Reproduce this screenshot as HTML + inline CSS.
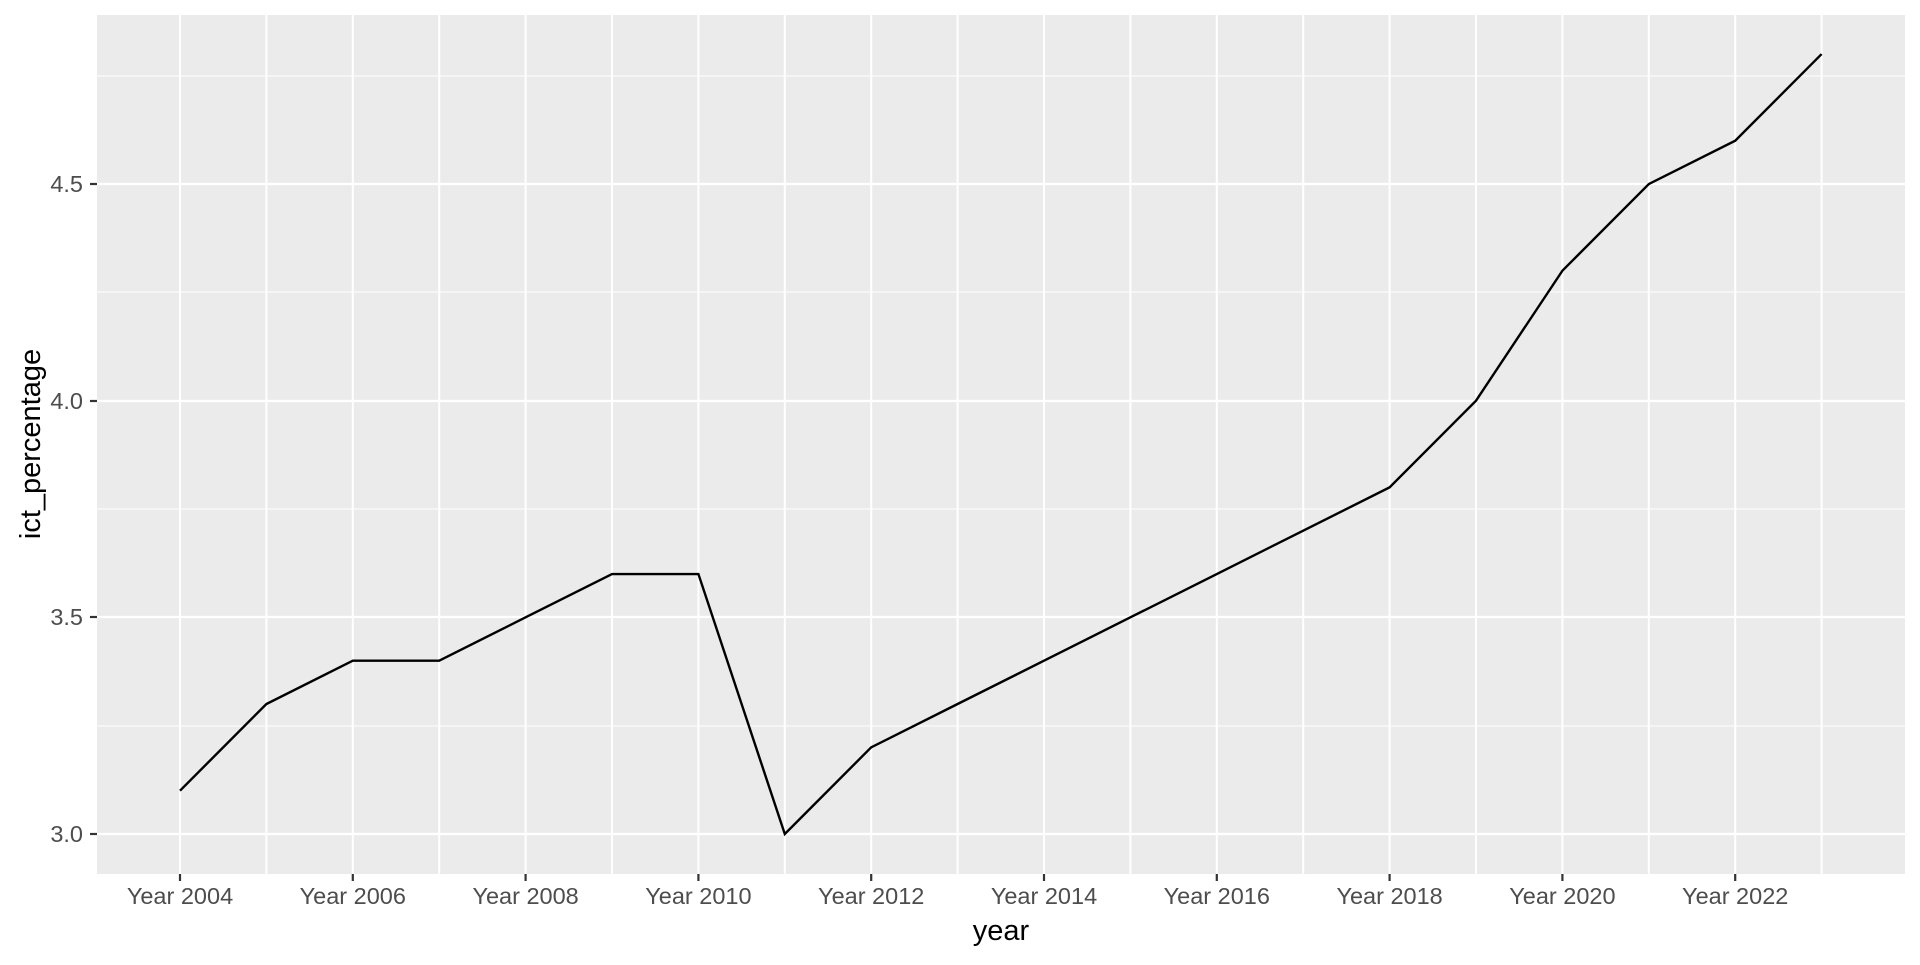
<!DOCTYPE html><html><head><style>body{margin:0;background:#fff}</style></head><body>
<svg width="1920" height="960" xmlns="http://www.w3.org/2000/svg" font-family="Liberation Sans, sans-serif">
<rect x="97" y="15" width="1808" height="859" fill="#ebebeb"/>
<g stroke="#fff" stroke-width="1.1">
<line x1="97" x2="1905" y1="726" y2="726"/><line x1="97" x2="1905" y1="509" y2="509"/><line x1="97" x2="1905" y1="292" y2="292"/><line x1="97" x2="1905" y1="76" y2="76"/>
</g>
<g stroke="#fff" stroke-width="2.2">
<line x1="97" x2="1905" y1="834" y2="834"/><line x1="97" x2="1905" y1="617" y2="617"/><line x1="97" x2="1905" y1="401" y2="401"/><line x1="97" x2="1905" y1="184" y2="184"/>
</g>
<g id="v" stroke="#fff"></g>
<script>
var g=document.getElementById('v'),ns='http://www.w3.org/2000/svg',s=document.querySelector('svg');
for(var i=0;i<20;i++){var x=180+i*86.4;var l=document.createElementNS(ns,'line');l.setAttribute('x1',x);l.setAttribute('x2',x);l.setAttribute('y1',15);l.setAttribute('y2',874);l.setAttribute('stroke-width',2);g.appendChild(l);
if(i%2==0){var t=document.createElementNS(ns,'line');t.setAttribute('x1',x);t.setAttribute('x2',x);t.setAttribute('y1',874);t.setAttribute('y2',881);t.setAttribute('stroke','#333');t.setAttribute('stroke-width',2.2);s.appendChild(t);
var tx=document.createElementNS(ns,'text');tx.setAttribute('x',x);tx.setAttribute('y',904);tx.setAttribute('text-anchor','middle');tx.setAttribute('font-size','23.5');tx.setAttribute('fill','#4d4d4d');tx.textContent='Year '+(2004+i);s.appendChild(tx);}}
var d=[3.1,3.3,3.4,3.4,3.5,3.6,3.6,3.0,3.2,3.3,3.4,3.5,3.6,3.7,3.8,4.0,4.3,4.5,4.6,4.8],p=[];
for(var i=0;i<20;i++)p.push((180+i*86.4)+','+(834-(d[i]-3)*433.3));
var pl=document.createElementNS(ns,'polyline');pl.setAttribute('points',p.join(' '));pl.setAttribute('fill','none');pl.setAttribute('stroke','#000');pl.setAttribute('stroke-width','2.4');s.appendChild(pl);
</script>
<g stroke="#333" stroke-width="2.2"><line x1="90" x2="97" y1="834" y2="834"/><line x1="90" x2="97" y1="617" y2="617"/><line x1="90" x2="97" y1="401" y2="401"/><line x1="90" x2="97" y1="184" y2="184"/></g>
<g font-size="23.5" fill="#4d4d4d" text-anchor="end"><text x="83" y="842">3.0</text><text x="83" y="625">3.5</text><text x="83" y="409">4.0</text><text x="83" y="192">4.5</text></g>
<text x="1001" y="940" font-size="29" text-anchor="middle">year</text>
<text transform="translate(40,444) rotate(-90)" font-size="29" text-anchor="middle">ict_percentage</text>
</svg></body></html>
